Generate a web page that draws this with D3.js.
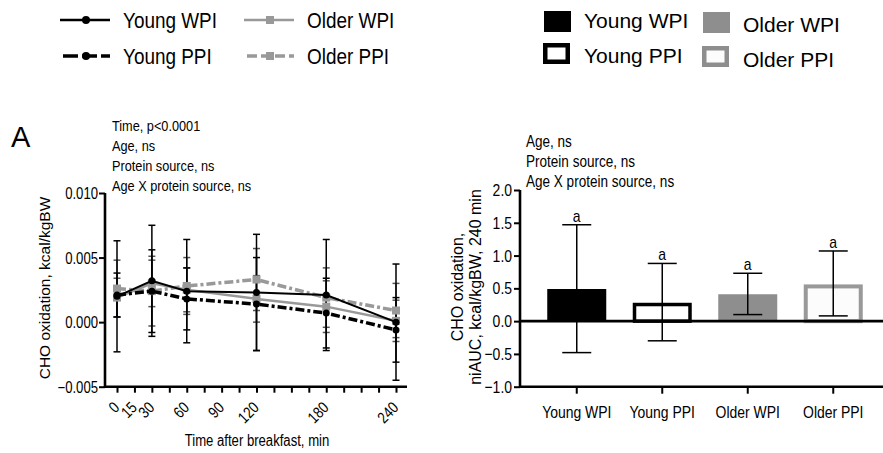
<!DOCTYPE html>
<html>
<head>
<meta charset="utf-8">
<script src="https://cdn.jsdelivr.net/npm/d3@7"></script>
<style>
  body { margin: 0; background: #fff; }
  text { font-family: 'Liberation Sans', Arial, sans-serif; fill: #000; }
  .axis line { stroke: #000; stroke-width: 2px; }
  .axisline { stroke: #000; stroke-width: 2.6px; }
</style>
</head>
<body>
<div class="chart"></div>
<script>
// time course data (panel A, left)
var times = [0, 30, 60, 120, 180, 240];
var timeTicks = d3.range(0, 241, 15);
var timeLabels = [0, 15, 30, 60, 90, 120, 180, 240];
var youngWPI = [0.0020, 0.0032, 0.0024, 0.0023, 0.0021, 0.0000];
var youngWPIsd = [0.0043, 0.0043, 0.0040, 0.0045, 0.0043, 0.0045];
var youngPPI = [0.0021, 0.0024, 0.0018, 0.0014, 0.0007, -0.0006];
var youngPPIsd = [0.0017, 0.0032, 0.0024, 0.0036, 0.0027, 0.0025];
var olderWPI = [0.0019, 0.0030, 0.0025, 0.0018, 0.0012, 0.0001];
var olderWPIsd = [0.0015, 0.0018, 0.0017, 0.0018, 0.0020, 0.0016];
var olderPPI = [0.0026, 0.0024, 0.0028, 0.0033, 0.0019, 0.0009];
var olderPPIsd = [0.0022, 0.0027, 0.0022, 0.0024, 0.0023, 0.0021];
var leftYTicks = [-0.005, 0.000, 0.005, 0.010];

// niAUC data (right)
var groups = ["Young WPI", "Young PPI", "Older WPI", "Older PPI"];
var auc = [0.49, 0.28, 0.41, 0.56];
var aucLow = [-0.48, -0.30, 0.10, 0.08];
var aucHigh = [1.47, 0.88, 0.73, 1.07];
var rightYTicks = [-1.0, -0.5, 0.0, 0.5, 1.0, 1.5, 2.0];

var leftNotes = ["Time, p<0.0001", "Age, ns", "Protein source, ns", "Age X protein source, ns"];
var rightNotes = ["Age, ns", "Protein source, ns", "Age X protein source, ns"];

var width = 883, height = 453;
var gray = "#999999", grayFill = "#8e8e8e";
var dashDot = "9,3,3,3";

var svg = d3.select(".chart").append("svg")
  .attr("width", width)
  .attr("height", height);

// ---------- legends ----------
var lineLegend = [
  {name: "Young WPI", color: "#000", dash: null, w: 2.5, mark: "circle", x: 60, y: 20},
  {name: "Young PPI", color: "#000", dash: "15,4", w: 3.5, mark: "circle", x: 60, y: 56},
  {name: "Older WPI", color: gray, dash: null, w: 2.5, mark: "square", x: 244, y: 20},
  {name: "Older PPI", color: gray, dash: "10,4", w: 3.5, mark: "square", x: 244, y: 56}
];
var lg = svg.selectAll(".lleg").data(lineLegend).enter().append("g")
  .attr("transform", function(d) { return "translate(" + d.x + "," + d.y + ")"; });
lg.append("line")
  .attr("x1", function(d) { return d.dash ? 3 : 0; }).attr("x2", 50)
  .attr("stroke", function(d) { return d.color; })
  .attr("stroke-width", function(d) { return d.w; })
  .attr("stroke-dasharray", function(d) { return d.dash; });
lg.each(function(d) {
  var g = d3.select(this);
  if (d.mark == "circle") g.append("circle").attr("cx", 26).attr("r", 4).attr("fill", d.color);
  else g.append("rect").attr("x", 22).attr("y", -4).attr("width", 8).attr("height", 8).attr("fill", d.color);
});
lg.append("text")
  .attr("class", "legtext")
  .attr("x", 63).attr("y", 8)
  .style("font-size", "22px")
  .text(function(d) { return d.name; });

var barLegend = [
  {name: "Young WPI", fill: "#000", stroke: "none", x: 544, y: 11, tx: 584, ty: 28},
  {name: "Young PPI", fill: "#fff", stroke: "#000", x: 543, y: 43, tx: 584, ty: 63},
  {name: "Older WPI", fill: grayFill, stroke: "none", x: 703, y: 12, tx: 743, ty: 32},
  {name: "Older PPI", fill: "#fcfcfc", stroke: grayFill, x: 702, y: 46, tx: 743, ty: 67}
];
barLegend.forEach(function(d) {
  var sw = d.stroke == "none" ? 0 : 4.5;
  svg.append("rect")
    .attr("x", d.x + sw / 2).attr("y", d.y + sw / 2)
    .attr("width", 27 - sw).attr("height", 21 - sw)
    .attr("fill", d.fill)
    .attr("stroke", d.stroke)
    .attr("stroke-width", sw);
  svg.append("text")
    .attr("class", "wide")
    .attr("x", d.tx).attr("y", d.ty)
    .style("font-size", "21px")
    .text(d.name);
});

// ---------- panel A: time course ----------
var x = d3.scaleLinear().domain([0, 240]).range([117, 396]);
var y = d3.scaleLinear().domain([-0.005, 0.010]).range([386.7, 193]);

svg.append("text").attr("class", "wide")
  .attr("x", 11).attr("y", 147)
  .style("font-size", "29px")
  .text("A");

svg.selectAll(".lnote").data(leftNotes).enter().append("text")
  .attr("x", 112)
  .attr("y", function(d, i) { return 131 + i * 20; })
  .style("font-size", "15.5px")
  .text(function(d) { return d; });

var yAxisL = svg.append("g")
  .attr("class", "axis")
  .attr("transform", "translate(105,0)")
  .call(d3.axisLeft(y).tickValues(leftYTicks).tickSize(6).tickSizeOuter(0)
    .tickFormat(d3.format(".3f")));
yAxisL.selectAll("text").style("font-size", "16px").attr("x", -7).attr("dy", "0.35em");

var xAxisL = svg.append("g")
  .attr("class", "axis")
  .attr("transform", "translate(0,386.7)")
  .call(d3.axisBottom(x).tickValues(timeTicks).tickSize(6).tickSizeOuter(0)
    .tickFormat(function(d) { return timeLabels.indexOf(d) >= 0 ? d : ""; }));
xAxisL.selectAll("text")
  .style("font-size", "16px")
  .attr("text-anchor", "end")
  .attr("dy", null)
  .attr("transform", "translate(3,22) rotate(-45)")
  .attr("y", 0).attr("x", 0);

// heavy axis lines drawn on their own
yAxisL.select(".domain").remove();
xAxisL.select(".domain").remove();
svg.append("line").attr("class", "axisline")
  .attr("x1", 105).attr("x2", 105).attr("y1", y(0.010)).attr("y2", y(-0.005) + 1.3);
svg.append("line").attr("class", "axisline")
  .attr("x1", 105).attr("x2", 407).attr("y1", y(-0.005)).attr("y2", y(-0.005));

svg.append("text")
  .attr("x", 257).attr("y", 446)
  .attr("text-anchor", "middle")
  .style("font-size", "16px")
  .text("Time after breakfast, min");

svg.append("text").attr("class", "wide")
  .attr("transform", "translate(50,288) rotate(-90)")
  .attr("text-anchor", "middle")
  .style("font-size", "15.5px")
  .text("CHO oxidation, kcal/kgBW");

var series = [
  {v: olderWPI, sd: olderWPIsd, color: gray, dash: null, w: 2.5, mark: "square"},
  {v: olderPPI, sd: olderPPIsd, color: gray, dash: dashDot, w: 3.5, mark: "square"},
  {v: youngWPI, sd: youngWPIsd, color: "#000", dash: null, w: 2, mark: "circle"},
  {v: youngPPI, sd: youngPPIsd, color: "#000", dash: dashDot, w: 3.5, mark: "circle"}
];

// error bars first
series.forEach(function(s) {
  var eb = svg.append("g").attr("stroke", s.color === gray ? "#555" : "#000").attr("stroke-width", 1.5);
  times.forEach(function(t, i) {
    var hi = s.v[i] + s.sd[i], lo = s.v[i] - s.sd[i];
    eb.append("line").attr("x1", x(t)).attr("x2", x(t)).attr("y1", y(hi)).attr("y2", y(lo));
    eb.append("line").attr("x1", x(t) - 3.5).attr("x2", x(t) + 3.5).attr("y1", y(hi)).attr("y2", y(hi));
    eb.append("line").attr("x1", x(t) - 3.5).attr("x2", x(t) + 3.5).attr("y1", y(lo)).attr("y2", y(lo));
  });
});

var line = d3.line()
  .x(function(d, i) { return x(times[i]); })
  .y(function(d) { return y(d); });

series.forEach(function(s) {
  svg.append("path")
    .datum(s.v)
    .attr("d", line)
    .attr("fill", "none")
    .attr("stroke", s.color)
    .attr("stroke-width", s.w)
    .attr("stroke-dasharray", s.dash);
  var m = svg.append("g").attr("fill", s.color);
  if (s.mark == "circle") {
    m.selectAll("circle").data(s.v).enter().append("circle")
      .attr("cx", function(d, i) { return x(times[i]); })
      .attr("cy", function(d) { return y(d); })
      .attr("r", 3.5);
  } else {
    m.selectAll("rect").data(s.v).enter().append("rect")
      .attr("x", function(d, i) { return x(times[i]) - 4; })
      .attr("y", function(d) { return y(d) - 4; })
      .attr("width", 8).attr("height", 8);
  }
});

// ---------- niAUC bars ----------
var xb = d3.scaleBand().domain(groups).range([534, 876]);
var yb = d3.scaleLinear().domain([-1, 2]).range([386.7, 190]);
var bw = 59;

svg.selectAll(".rnote").data(rightNotes).enter().append("text")
  .attr("x", 526)
  .attr("y", function(d, i) { return 147 + i * 20; })
  .style("font-size", "16.5px")
  .text(function(d) { return d; });

var yAxisR = svg.append("g")
  .attr("class", "axis")
  .attr("transform", "translate(520,0)")
  .call(d3.axisLeft(yb).tickValues(rightYTicks).tickSize(6).tickSizeOuter(0)
    .tickFormat(d3.format(".1f")));
yAxisR.selectAll("text").style("font-size", "17px").attr("x", -8);

var xAxisR = svg.append("g")
  .attr("class", "axis")
  .attr("transform", "translate(0,386.7)")
  .call(d3.axisBottom(xb).tickSize(7).tickSizeOuter(0));
xAxisR.selectAll("text").style("font-size", "17px").attr("y", 0).attr("dy", null)
  .attr("transform", "translate(0,31)");

yAxisR.select(".domain").remove();
xAxisR.select(".domain").remove();
svg.append("line").attr("class", "axisline")
  .attr("x1", 520).attr("x2", 520).attr("y1", yb(2)).attr("y2", yb(-1) + 1.3);
svg.append("line").attr("class", "axisline")
  .attr("x1", 520).attr("x2", 883).attr("y1", yb(-1)).attr("y2", yb(-1));

svg.append("text").attr("class", "wide")
  .attr("transform", "translate(463,287) rotate(-90)")
  .attr("text-anchor", "middle")
  .style("font-size", "16px")
  .text("CHO oxidation,");
svg.append("text").attr("class", "wide")
  .attr("transform", "translate(481,287) rotate(-90)")
  .attr("text-anchor", "middle")
  .style("font-size", "16px")
  .text("niAUC, kcal/kgBW, 240 min");

var barStyle = [
  {fill: "#000", stroke: "none", sw: 0},
  {fill: "#fff", stroke: "#000", sw: 3.5},
  {fill: grayFill, stroke: "none", sw: 0},
  {fill: "#fcfcfc", stroke: gray, sw: 4}
];

groups.forEach(function(g, i) {
  var st = barStyle[i];
  var cx = xb(g) + xb.bandwidth() / 2;
  var top = yb(auc[i]), base = yb(0);
  svg.append("rect")
    .attr("x", cx - bw / 2 + st.sw / 2)
    .attr("y", top + st.sw / 2)
    .attr("width", bw - st.sw)
    .attr("height", base - top - st.sw / 2)
    .attr("fill", st.fill)
    .attr("stroke", st.stroke)
    .attr("stroke-width", st.sw);
  var eb = svg.append("g").attr("stroke", "#000").attr("stroke-width", 1.5);
  eb.append("line").attr("x1", cx).attr("x2", cx).attr("y1", yb(aucHigh[i])).attr("y2", yb(aucLow[i]));
  eb.append("line").attr("x1", cx - 14.5).attr("x2", cx + 14.5).attr("y1", yb(aucHigh[i])).attr("y2", yb(aucHigh[i]));
  eb.append("line").attr("x1", cx - 14.5).attr("x2", cx + 14.5).attr("y1", yb(aucLow[i])).attr("y2", yb(aucLow[i]));
  svg.append("text")
    .attr("x", cx).attr("y", yb(aucHigh[i]) - 3)
    .attr("text-anchor", "middle")
    .style("font-size", "17px")
    .text("a");
});

// zero line
svg.append("line").attr("class", "axisline")
  .attr("x1", 520).attr("x2", 883)
  .attr("y1", yb(0)).attr("y2", yb(0));

// the figure uses a condensed face: squeeze the plain text horizontally
svg.selectAll("text:not(.wide)").each(function() {
  var len = this.getComputedTextLength();
  var k = d3.select(this).classed("legtext") ? 0.86 : 0.82;
  if (len > 0) {
    d3.select(this)
      .attr("textLength", len * k)
      .attr("lengthAdjust", "spacingAndGlyphs");
  }
});
</script>
</body>
</html>
